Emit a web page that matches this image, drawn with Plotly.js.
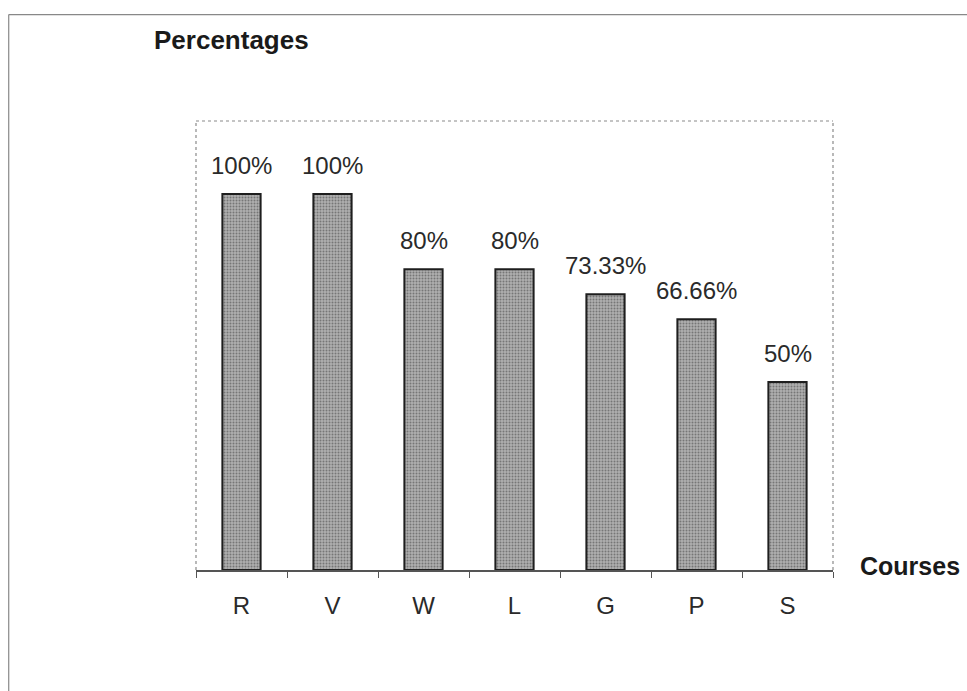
<!DOCTYPE html>
<html>
<head>
<meta charset="utf-8">
<script src="https://cdn.plot.ly/plotly-3.0.1.min.js"></script>
<style>html,body{margin:0;padding:0;background:#fff;}#chart{width:967px;height:691px;}</style>
</head>
<body>
<div id="chart"></div>
<script>
const courses = ["R", "V", "W", "L", "G", "P", "S"];
const percentages = [100, 100, 80, 80, 73.33, 66.66, 50];
const valueLabels = ["100%", "100%", "80%", "80%", "73.33%", "66.66%", "50%"];

const FONT = "Liberation Sans, Arial, sans-serif";

const trace = {
  type: "bar",
  x: courses,
  y: percentages,
  width: 0.42,
  marker: {
    color: "#a5a5a5",
    line: {color: "#1e1e1e", width: 2},
    pattern: {shape: ".", fgcolor: "#767676", bgcolor: "#b0b0b0", size: 3, solidity: 0.35}
  },
  hoverinfo: "none"
};

const annotations = courses.map((c, i) => ({
  x: c, y: percentages[i], xref: "x", yref: "y",
  text: valueLabels[i], showarrow: false,
  yanchor: "bottom", yshift: 13,
  font: {family: FONT, size: 24, color: "#2a2a2a"}
}));

annotations.push({
  xref: "paper", yref: "paper", x: -0.069, y: 1.18, xanchor: "left", yanchor: "middle",
  text: "<b>Percentages</b>", showarrow: false,
  font: {family: FONT, size: 26, color: "#1a1a1a"}
});
annotations.push({
  xref: "paper", yref: "paper", x: 1.039, y: 0.009, xanchor: "left", yanchor: "middle",
  text: "<b>Courses</b>", showarrow: false,
  font: {family: FONT, size: 25, color: "#1a1a1a"}
});

const layout = {
  width: 967, height: 691,
  margin: {l: 196, r: 134, t: 121, b: 121, pad: 0},
  paper_bgcolor: "#ffffff",
  plot_bgcolor: "#ffffff",
  showlegend: false,
  xaxis: {
    type: "category",
    showline: true, linecolor: "#555555", linewidth: 1.5,
    ticks: "outside", tickson: "boundaries", ticklen: 6, tickcolor: "#555555", tickwidth: 1,
    ticklabelstandoff: 14,
    tickfont: {family: FONT, size: 24, color: "#2a2a2a"},
    showgrid: false, zeroline: false,
    range: [-0.5, 6.5]
  },
  yaxis: {
    range: [0, 119.4],
    showticklabels: false, ticks: "", showgrid: false, zeroline: false, showline: false
  },
  annotations: annotations,
  shapes: [
    {type: "line", xref: "paper", yref: "paper", x0: 0, x1: 0, y0: 0, y1: 1, line: {color: "#8a8a8a", width: 1.2, dash: "dot"}},
    {type: "line", xref: "paper", yref: "paper", x0: 0, x1: 1, y0: 1, y1: 1, line: {color: "#8a8a8a", width: 1.2, dash: "dot"}},
    {type: "line", xref: "paper", yref: "paper", x0: 1, x1: 1, y0: 0, y1: 1, line: {color: "#8a8a8a", width: 1.2, dash: "dot"}},
    {type: "line", xref: "paper", yref: "paper", x0: -0.294, x1: 1.22, y0: 1.237, y1: 1.237, line: {color: "#888888", width: 1.2}},
    {type: "line", xref: "paper", yref: "paper", x0: -0.294, x1: -0.294, y0: -0.27, y1: 1.237, line: {color: "#888888", width: 1.2}}
  ]
};

Plotly.newPlot("chart", [trace], layout, {staticPlot: true, displayModeBar: false});
</script>
</body>
</html>
